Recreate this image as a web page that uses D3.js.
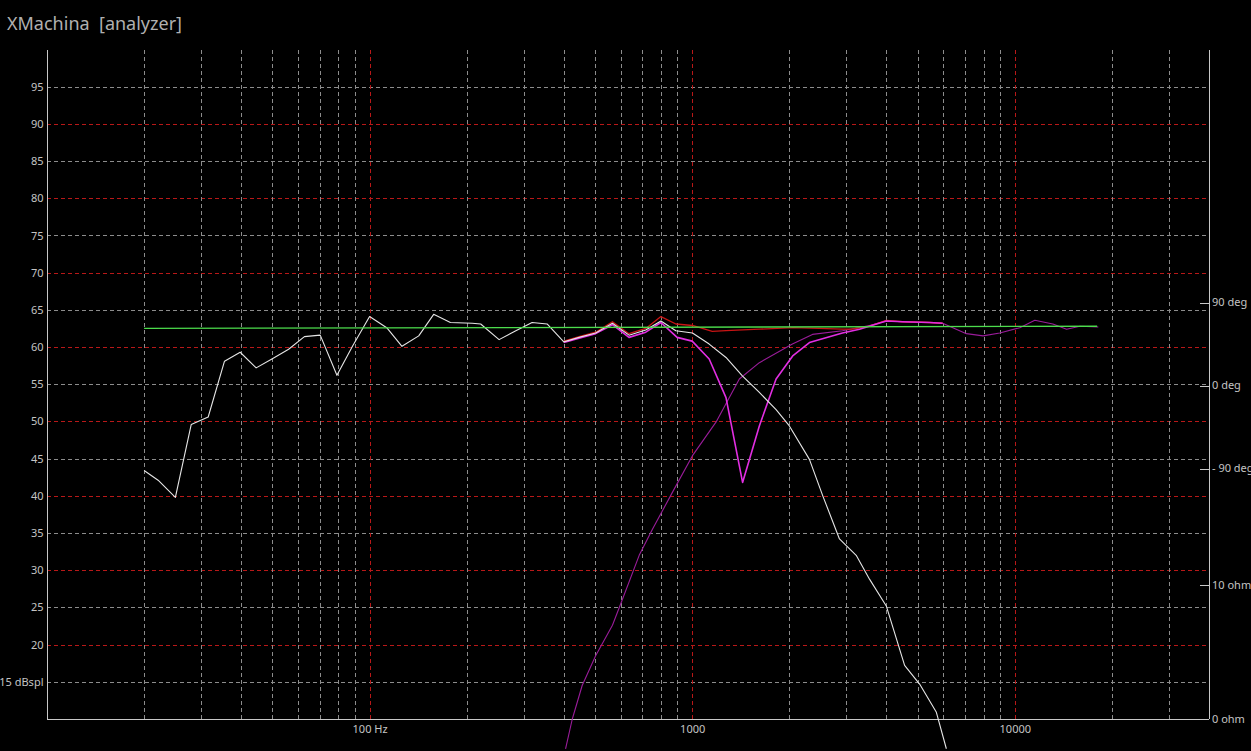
<!DOCTYPE html>
<html>
<head>
<meta charset="utf-8">
<script src="https://cdn.jsdelivr.net/npm/d3@7"></script>
<style>
  html, body { margin: 0; padding: 0; background: #000; }
  svg { display: block; }
</style>
</head>
<body>
<svg id="chart" width="1251" height="751"></svg>
<script>
// ---------------- data ----------------
const titleText = "XMachina  [analyzer]";

const dbTicks = [15, 20, 25, 30, 35, 40, 45, 50, 55, 60, 65, 70, 75, 80, 85, 90, 95];
const freqGrid = [20, 30, 40, 50, 60, 70, 80, 90, 100, 200, 300, 400, 500, 600, 700, 800, 900,
                  1000, 2000, 3000, 4000, 5000, 6000, 7000, 8000, 9000, 10000, 20000, 30000];
const freqLabels = [100, 1000, 10000];
const degTicks = [90, 0, -90];
const ohmTicks = [10, 0];

// white: woofer response
const whiteFreq = [20, 22.1, 25, 28, 31.6, 35.5, 39.7, 44.5, 49.8, 56.1, 62.8, 70.3, 79.2, 88.5, 100,
  113, 126, 142, 158, 178, 208, 221, 252, 284, 319, 355, 400, 446, 502, 566, 637, 718, 800, 890,
  1002, 1129, 1273, 1433, 1615, 1820, 2001, 2309, 2540, 2861, 3224, 3546, 3996, 4555, 5070, 5714, 6136];
const whiteDb = [43.4, 42.1, 39.8, 49.6, 50.6, 58.1, 59.3, 57.2, 58.4, 59.7, 61.4, 61.6, 56.2, 60.1, 64.1,
  62.6, 60.1, 61.5, 64.4, 63.3, 63.2, 63.1, 61.0, 62.2, 63.3, 63.1, 60.7, 61.3, 61.9, 63.2, 61.6, 62.3, 63.5, 62.2,
  61.9, 60.4, 58.6, 56.1, 53.9, 51.6, 49.4, 44.9, 40.0, 34.2, 32.0, 28.8, 25.2, 17.2, 14.7, 10.9, 6.0];

// purple: tweeter response
const tweeterFreq = [405, 425, 456, 502, 566, 608, 685, 753, 869, 1002, 1185, 1400, 1615, 2045, 2359, 2923,
  3546, 3996, 4490, 5445, 5976, 7079, 7971, 8983, 10364, 11538, 13122, 14477, 15922, 18150];
const tweeterDb = [6.0, 10.0, 14.5, 18.5, 22.6, 26.1, 32.0, 35.5, 40.5, 45.4, 49.9, 55.7, 57.9, 60.4, 61.7, 62.2,
  62.9, 63.5, 63.4, 63.3, 63.2, 61.8, 61.5, 61.9, 62.6, 63.6, 63.1, 62.4, 62.8, 62.7];

// magenta: summed response (inverted polarity, notch)
const sumInvFreq = [400, 446, 502, 566, 637, 718, 800, 898, 1000, 1129, 1273, 1433, 1615, 1820, 2049, 2309,
  2923, 3301, 3996, 4490, 5445, 5976];
const sumInvDb = [60.6, 61.2, 61.8, 63.0, 61.3, 62.0, 63.3, 61.3, 60.8, 58.4, 53.2, 41.8, 49.4, 55.7, 58.8, 60.6,
  61.9, 62.4, 63.5, 63.4, 63.3, 63.2];

// red: summed response (normal polarity)
const sumFreq = [400, 446, 502, 566, 637, 718, 800, 890, 1002, 1154, 1273, 1615, 2049, 2474, 2923, 3125,
  3546, 3996, 4490, 5445, 5976];
const sumDb = [60.8, 61.4, 62.0, 63.4, 61.8, 62.5, 64.1, 63.1, 62.9, 62.1, 62.2, 62.4, 62.6, 62.5, 62.4, 62.4,
  62.8, 63.6, 63.4, 63.3, 63.2];

// green: target line
const targetFreq = [20, 18000];
const targetDb = [62.5, 62.8];

// ---------------- drawing ----------------
(function () {
const svg = d3.select("#chart");
svg.append("rect").attr("width", 1251).attr("height", 751).attr("fill", "#000");

const pL = 47, pR = 1209, pT = 50, pB = 719;
const x = d3.scaleLog().domain([10, 40000]).range([pL, pR]);
const y = d3.scaleLinear().domain([10, 100]).range([pB, 49.5]);
const yDeg = d3.scaleLinear().domain([-90, 90]).range([468.5, 302.5]);
const yOhm = d3.scaleLinear().domain([0, 10]).range([pB, 585]);

const font = "'Noto Sans', 'Open Sans', sans-serif";
const gridGray = "#8c8c8c", gridRed = "#b81818", axisCol = "#c8c8c8", textCol = "#c4c4c4";

// title
svg.append("text").attr("x", 7).attr("y", 30).text(titleText)
  .style("white-space", "pre")
  .attr("font-family", font).attr("font-size", 18).attr("fill", "#b0b0b0");

// horizontal grid
const gH = svg.append("g");
gH.selectAll("line").data(dbTicks).join("line")
  .attr("x1", pL).attr("x2", pR)
  .attr("y1", d => Math.round(y(d)) + 0.5).attr("y2", d => Math.round(y(d)) + 0.5)
  .attr("stroke", d => d % 10 === 0 ? gridRed : gridGray)
  .attr("stroke-dasharray", "4,3").attr("stroke-width", 1);

// vertical grid
const gV = svg.append("g");
gV.selectAll("line").data(freqGrid).join("line")
  .attr("x1", d => Math.round(x(d)) + 0.5).attr("x2", d => Math.round(x(d)) + 0.5)
  .attr("y1", pT).attr("y2", pB)
  .attr("stroke", d => (d === 100 || d === 1000 || d === 10000) ? gridRed : gridGray)
  .attr("stroke-dasharray", "4,3").attr("stroke-width", 1);

// left axis via d3 axis
const yAxis = d3.axisLeft(y).tickValues(dbTicks)
  .tickFormat(d => d === 15 ? "15 dBspl" : String(d)).tickSize(0).tickPadding(4);
const gY = svg.append("g").attr("transform", `translate(${pL + 0.5},0)`).call(yAxis);
gY.select(".domain").attr("stroke", axisCol).attr("d", `M0,${pT}V${pB}`);
gY.selectAll("text").attr("font-family", font).attr("font-size", 11).attr("fill", textCol);

// bottom axis
const xAxis = d3.axisBottom(x).tickValues(freqLabels)
  .tickFormat(d => d === 100 ? "100 Hz" : String(d)).tickSize(0).tickPadding(6);
const gX = svg.append("g").attr("transform", `translate(0,${pB + 0.5})`).call(xAxis);
gX.select(".domain").attr("stroke", axisCol).attr("d", `M${pL},0H${pR}`);
gX.selectAll("text").attr("font-family", font).attr("font-size", 11).attr("fill", textCol);

// right axis line
svg.append("line").attr("x1", pR + 0.5).attr("x2", pR + 0.5).attr("y1", pT).attr("y2", pB)
  .attr("stroke", axisCol);

// right ticks: degrees
const gD = svg.append("g");
gD.selectAll("line").data(degTicks).join("line")
  .attr("x1", pR - 9).attr("x2", pR)
  .attr("y1", d => Math.round(yDeg(d)) + 0.5).attr("y2", d => Math.round(yDeg(d)) + 0.5)
  .attr("stroke", axisCol);
gD.selectAll("text").data(degTicks).join("text")
  .attr("x", pR + 3).attr("y", d => yDeg(d)).attr("dy", "0.35em")
  .text(d => d < 0 ? "- " + Math.abs(d) + " deg" : d + " deg")
  .attr("font-family", font).attr("font-size", 11).attr("fill", textCol);

// right ticks: ohm
const gO = svg.append("g");
gO.selectAll("line").data(ohmTicks.filter(d => d !== 0)).join("line")
  .attr("x1", pR - 9).attr("x2", pR)
  .attr("y1", d => Math.round(yOhm(d)) + 0.5).attr("y2", d => Math.round(yOhm(d)) + 0.5)
  .attr("stroke", axisCol);
gO.selectAll("text").data(ohmTicks).join("text")
  .attr("x", pR + 3).attr("y", d => yOhm(d)).attr("dy", "0.35em")
  .text(d => d + " ohm")
  .attr("font-family", font).attr("font-size", 11).attr("fill", textCol);

// curves
const line = d3.line().x(d => x(d[0])).y(d => y(d[1]));
function curve(freqs, dbs, color, width) {
  const pts = freqs.map((f, i) => [f, dbs[i]]);
  svg.append("path").datum(pts).attr("d", line)
    .attr("fill", "none").attr("stroke", color).attr("stroke-width", width)
    .attr("stroke-linejoin", "round");
}
curve(tweeterFreq, tweeterDb, "#9a1c9a", 1.1);
curve(sumFreq, sumDb, "#c81414", 1.3);
curve(sumInvFreq, sumInvDb, "#e22ee2", 1.6);
curve(whiteFreq, whiteDb, "#e6e6e6", 1.1);
curve(targetFreq, targetDb, "#4cdc4c", 1.3);
})();
</script>
</body>
</html>
